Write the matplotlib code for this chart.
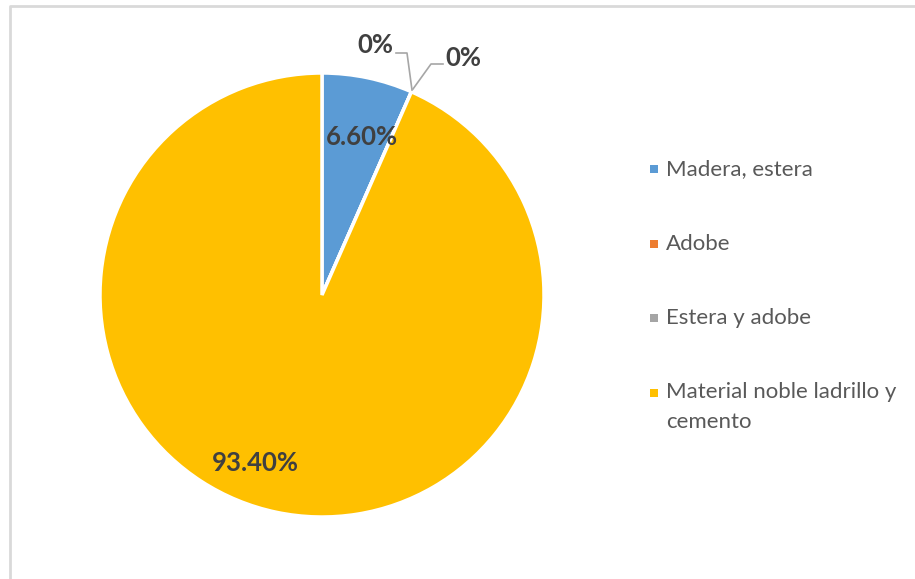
import matplotlib.pyplot as plt
from matplotlib.patches import Rectangle

plt.rcParams['font.family'] = ['Lato', 'DejaVu Sans']

categories = ["Madera, estera", "Adobe", "Estera y adobe",
              "Material noble ladrillo y\ncemento"]
percents = [6.60, 0.0, 0.0, 93.40]
colors = ["#5B9BD5", "#ED7D31", "#A5A5A5", "#FFC000"]

W, H = 915, 579
fig = plt.figure(figsize=(W / 100, H / 100), dpi=100)
ax = fig.add_axes([0, 0, 1, 1])

# pie in pixel units (y measured from the bottom)
cx, cy, rad = 322, H - 295, 222
wedges, _ = ax.pie(percents, colors=colors, startangle=90, counterclock=False,
                   center=(cx, cy), radius=rad,
                   wedgeprops=dict(edgecolor="white", linewidth=2.5))

def fmt(v):
    return "%.2f%%" % v if v else "0%"

lab_col = "#404040"
lab_pos = [(362, 137), (375, 45), (463, 58), (255, 463)]
for v, (x, y) in zip(percents, lab_pos):
    ax.text(x, H - y, fmt(v), ha="center", va="center",
            fontsize=18.5, fontweight="bold", color=lab_col)

# leader lines for the zero slices
ax.plot([396, 407, 412], [H - 53, H - 53, H - 90], color="#a6a6a6", lw=1.2)
ax.plot([443, 431, 413], [H - 64, H - 64, H - 89], color="#a6a6a6", lw=1.2)

# chart frame
ax.plot([9.5, 9.5, W + 10], [-10, H - 5.5, H - 5.5], color="#d9d9d9", lw=2)

# legend: colour square + label, one row every ~74.5 px
for i, (name, c) in enumerate(zip(categories, colors)):
    yc = H - (169 + i * 74.5)
    ax.add_patch(Rectangle((650, yc - 4), 8, 8, color=c, lw=0))
    first, *rest = name.split("\n")
    ax.text(666, yc, first, ha="left", va="center", fontsize=16,
            color="#595959")
    for j, line in enumerate(rest, 1):
        ax.text(666, yc - 29 * j, line, ha="left", va="center",
                fontsize=16, color="#595959")

ax.set_xlim(0, W)
ax.set_ylim(0, H)
ax.set_aspect("equal")
ax.axis("off")

fig.savefig("out.png", dpi=100)
